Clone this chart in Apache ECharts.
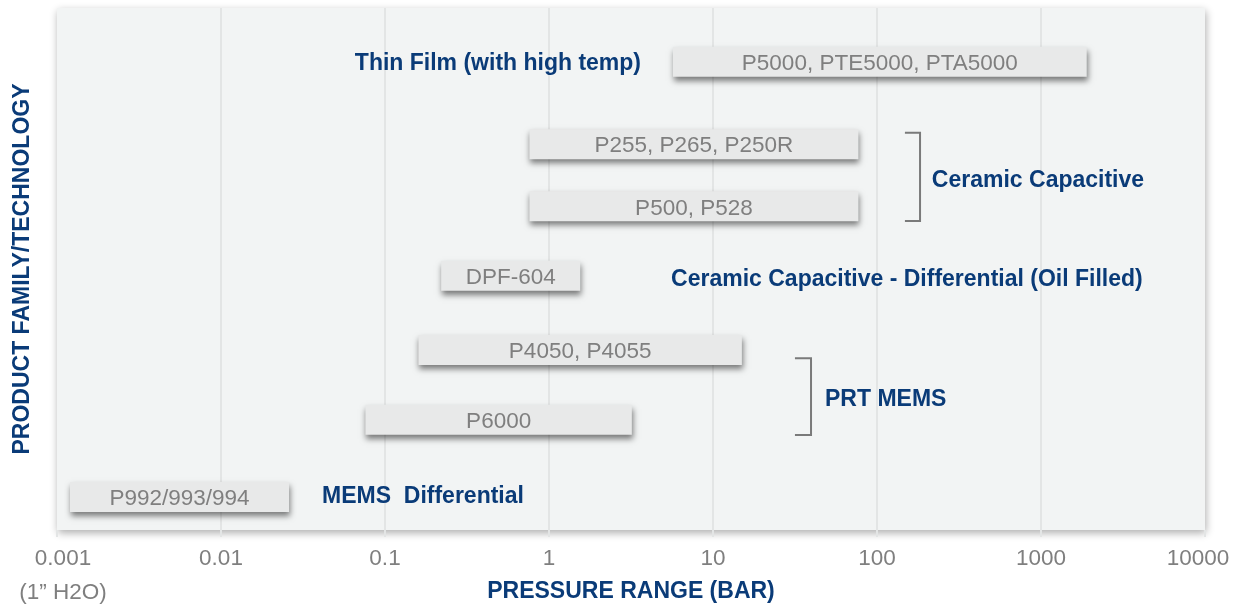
<!DOCTYPE html>
<html>
<head>
<meta charset="utf-8">
<title>Pressure range by product family</title>
<script src="https://cdn.jsdelivr.net/npm/echarts@6/dist/echarts.min.js"></script>
<style>
  html, body { margin: 0; padding: 0; background: #ffffff; }
  #chart { width: 1252px; height: 604px; }
</style>
</head>
<body>
<div id="chart"></div>
<script>
// products (one bar each), pressure range in bar, and the row each sits on (0 = bottom, 100 = top)
const products = ["P5000, PTE5000, PTA5000", "P255, P265, P250R", "P500, P528", "DPF-604", "P4050, P4055", "P6000", "P992/993/994"];
const rangeMin = [5.7, 0.76, 0.76, 0.22, 0.16, 0.076, 0.0012];
const rangeMax = [1900, 77, 77, 1.55, 15, 3.2, 0.026];
const rowLevel = [89.7, 73.9, 62.0, 48.7, 34.5, 21.1, 6.3];

// technology labels
const techNames = ["Thin Film (with high temp)", "Ceramic Capacitive", "Ceramic Capacitive - Differential (Oil Filled)", "PRT MEMS", "MEMS  Differential"];
const techX = [3.64, 216, 5.55, 48.2, 0.0413];
const techY = [89.3, 67.0, 48.0, 25.0, 6.3];
const techSide = ["right", "left", "left", "left", "left"];

// brackets grouping two products: [xFrom, xTo, yTop, yBottom]
const brackets = [
  [148, 183, 76.1, 59.2],
  [31.6, 39.6, 32.9, 18.2]
];

const tickLabels = ["0.001", "0.01", "0.1", "1", "10", "100", "1000", "10000"];
const minNote = "(1\u201D H2O)";

const BLUE = "#0a3b78";
const GREY_TEXT = "#7f7f7f";
const FONT = "Liberation Sans, Arial, sans-serif";

const chart = echarts.init(document.getElementById("chart"));

const option = {
  backgroundColor: "#ffffff",
  animation: false,
  grid: {
    left: 57,
    right: 47,
    top: 8,
    bottom: 74,
    outerBoundsMode: "none",
    show: true,
    backgroundColor: "#f2f4f4",
    borderWidth: 0,
    shadowBlur: 8,
    shadowColor: "rgba(0,0,0,0.32)",
    shadowOffsetX: 1,
    shadowOffsetY: 3,
  },
  xAxis: {
    type: "log",
    logBase: 10,
    min: 0.001,
    max: 10000,
    interval: 1,
    name: "PRESSURE RANGE (BAR)",
    nameLocation: "middle",
    nameGap: 50,
    nameMoveOverlap: false,
    nameTextStyle: { color: BLUE, fontWeight: "bold", fontSize: 23, fontFamily: FONT },
    axisLine: { show: false },
    axisTick: { show: true, length: 7, lineStyle: { color: "#e3e5e5", width: 2 } },
    splitLine: { show: true, showMinLine: false, showMaxLine: false, lineStyle: { color: "#e3e5e5", width: 2 } },
    axisLabel: {
      color: GREY_TEXT,
      fontSize: 22.5,
      fontFamily: FONT,
      margin: 12,
      lineHeight: 34,
      formatter: (val, idx) => {
        const t = tickLabels[idx];
        if (idx === 0) return "{first|" + t + "}\n{first|" + minNote + "}";
        if (idx === tickLabels.length - 1) return "{last|" + t + "}";
        return t;
      },
      rich: {
        first: { color: GREY_TEXT, fontSize: 22.5, fontFamily: FONT, lineHeight: 34, padding: [0, 0, 0, 12] },
        last: { color: GREY_TEXT, fontSize: 22.5, fontFamily: FONT, lineHeight: 34, padding: [0, 14, 0, 0] },
      },
    },
  },
  yAxis: {
    type: "value",
    min: 0,
    max: 100,
    name: "PRODUCT FAMILY/TECHNOLOGY",
    nameLocation: "middle",
    nameRotate: 90,
    nameGap: 23,
    nameMoveOverlap: false,
    nameTextStyle: { color: BLUE, fontWeight: "bold", fontSize: 23, fontFamily: FONT },
    axisLine: { show: false },
    axisTick: { show: false },
    axisLabel: { show: false },
    splitLine: { show: false },
  },
  series: [
    {
      // product range bars
      type: "custom",
      data: products.map((p, i) => [rangeMin[i], rangeMax[i], rowLevel[i]]),
      encode: { x: [0, 1], y: 2 },
      renderItem: (params, api) => {
        const a = api.coord([api.value(0), api.value(2)]);
        const b = api.coord([api.value(1), api.value(2)]);
        const h = 30;
        return {
          type: "group",
          children: [
            {
              type: "rect",
              shape: { x: a[0], y: a[1] - h / 2, width: b[0] - a[0], height: h },
              style: {
                fill: "#e8e9e9",
                shadowBlur: 6,
                shadowOffsetX: 1,
                shadowOffsetY: 4,
                shadowColor: "rgba(0,0,0,0.5)",
              },
            },
            {
              type: "text",
              style: {
                x: (a[0] + b[0]) / 2,
                y: a[1] + 2,
                text: products[params.dataIndex],
                align: "center",
                verticalAlign: "middle",
                fill: GREY_TEXT,
                fontSize: 22.5,
                fontFamily: FONT,
              },
            },
          ],
        };
      },
    },
    {
      // technology names
      type: "custom",
      data: techNames.map((t, i) => [techX[i], techY[i]]),
      encode: { x: 0, y: 1 },
      renderItem: (params, api) => {
        const p = api.coord([api.value(0), api.value(1)]);
        return {
          type: "text",
          style: {
            x: p[0],
            y: p[1],
            text: techNames[params.dataIndex],
            align: techSide[params.dataIndex],
            verticalAlign: "middle",
            fill: BLUE,
            fontWeight: "bold",
            fontSize: 23,
            fontFamily: FONT,
          },
        };
      },
    },
    {
      // brackets
      type: "custom",
      data: brackets,
      encode: { x: [0, 1], y: [2, 3] },
      renderItem: (params, api) => {
        const tl = api.coord([api.value(0), api.value(2)]);
        const tr = api.coord([api.value(1), api.value(2)]);
        const br = api.coord([api.value(1), api.value(3)]);
        const bl = api.coord([api.value(0), api.value(3)]);
        return {
          type: "polyline",
          shape: { points: [tl, tr, br, bl] },
          style: { stroke: "#7a7a7a", lineWidth: 2, fill: null },
        };
      },
    },
  ],
};

chart.setOption(option);
</script>
</body>
</html>
